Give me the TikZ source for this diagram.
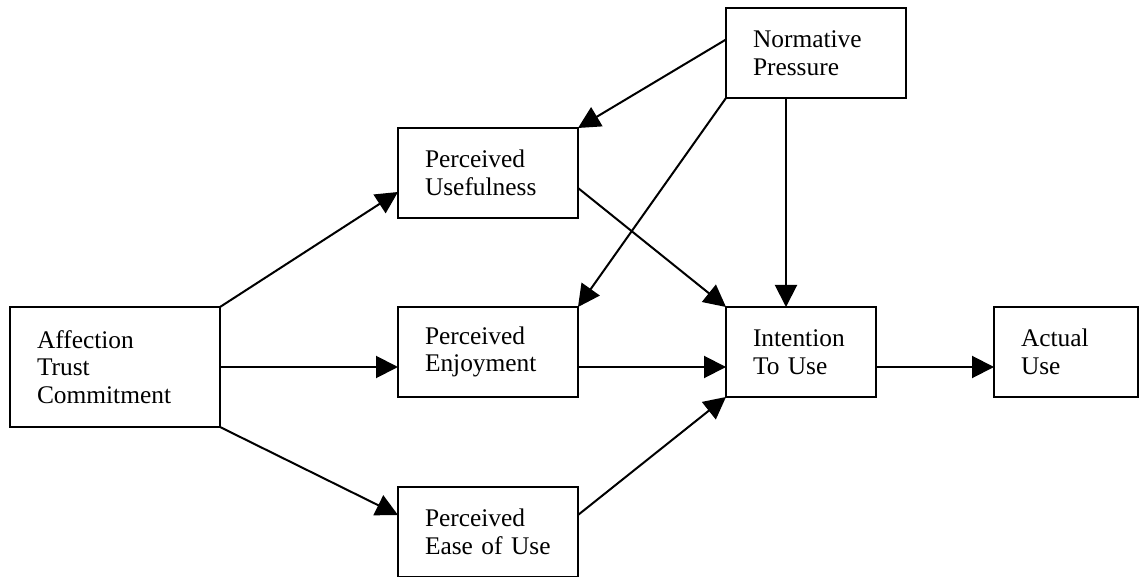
\documentclass[tikz,border=0pt]{standalone}
\usepackage{fontspec}
\setmainfont{Liberation Serif}
\usetikzlibrary{positioning, arrows.meta}

\begin{document}
\begin{tikzpicture}[
  x=0.5pt, y=-0.5pt,
  box/.style={draw, line width=1.3pt, rectangle, align=left, inner xsep=13.5pt, outer sep=0pt,
              minimum height=45pt, font=\fontsize{12.7}{13.8}\selectfont},
  wbox/.style={box, minimum width=90pt, text width=63pt},
  arr/.style={-{Triangle[length=11pt, width=11pt]}, line width=1pt},
]
\useasboundingbox (0,0) rectangle (1141,577);

% ---------- Source construct ----------
\node[box, minimum width=105pt, minimum height=60pt, text width=78pt, anchor=north west]
  (aff) at (10,307) {Affection\\Trust\\Commitment};

% ---------- Middle column ----------
\node[wbox, right=89pt of aff.north east, anchor=north west] (enj) {Perceived\\Enjoyment};
\node[wbox, above=44.5pt of enj] (use) {Perceived\\Usefulness};
\node[wbox, below=45pt of enj] (ease) {Perceived\\Ease of Use};

% ---------- Right side ----------
\node[box, minimum width=75pt, text width=48pt, right=74pt of enj] (int) {Intention\\To Use};
\node[box, minimum width=72pt, text width=45pt, right=59pt of int] (act) {Actual\\Use};
\node[wbox, above=104.5pt of int.north west, anchor=south west] (norm) {Normative\\Pressure};

% ---------- Arrows from the source ----------
\draw[arr] (aff.north east) -- ([yshift=-9.5pt]use.west);
\draw[arr] (aff.east) -- (aff.east -| enj.west);
\draw[arr] (aff.south east) -- ([yshift=8.5pt]ease.west);

% ---------- Perceptions to intention ----------
\draw[arr] ([yshift=-7.5pt]use.east) -- (int.north west);
\draw[arr] (aff.east -| enj.east) -- (aff.east -| int.west);
\draw[arr] ([yshift=8.5pt]ease.east) -- (int.south west);

% ---------- Normative pressure ----------
\draw[arr] ([yshift=6.75pt]norm.west) -- (use.north east);
\draw[arr] (norm.south west) -- (enj.north east);
\draw[arr] ([xshift=30pt]norm.south west) -- ([xshift=30pt]int.north west);

% ---------- Outcome ----------
\draw[arr] (aff.east -| int.east) -- (aff.east -| act.west);

\end{tikzpicture}
\end{document}
